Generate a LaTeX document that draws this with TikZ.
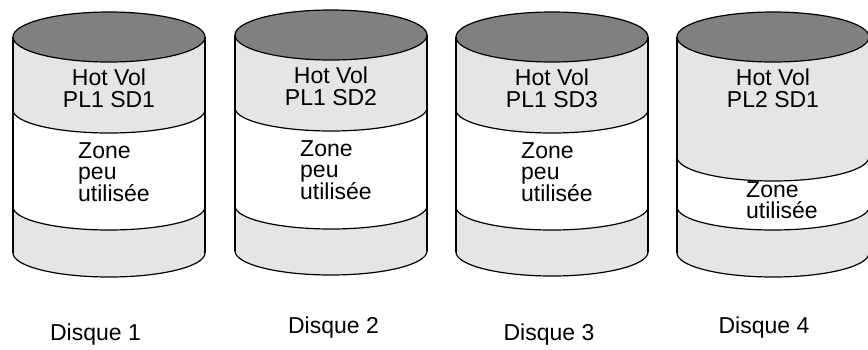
\documentclass[tikz,border=0pt]{standalone}
\usepackage{fontspec}
\setmainfont{Liberation Sans}
\definecolor{lidgray}{RGB}{128,128,128}
\definecolor{bodygray}{RGB}{229,229,229}
\begin{document}
\begin{tikzpicture}[x=1pt, y=1pt, font=\fontsize{23}{22}\selectfont,
		rim/.style = {draw, line width=1.2pt},
		wall/.style = {draw, line width=1.8pt},
		lid/.style = {rim, fill=lidgray},
		hot/.style = {inner sep=0pt, anchor=north, align=center},
		zone/.style = {inner sep=0pt, anchor=north west, align=left, font=\fontsize{23}{21}\selectfont},
		disk/.style = {inner sep=0pt, anchor=base}]
		\useasboundingbox (0,0) rectangle (868,-349);
		% Disque 1
		\fill[bodygray] (13,-37) -- (13,-253) arc[start angle=180, end angle=360, x radius=96, y radius=24] -- (205,-37) -- cycle;
		\fill[white] (13,-110) arc[start angle=180, end angle=360, x radius=96, y radius=23] -- (205,-207) arc[start angle=0, end angle=-180, x radius=96, y radius=23] -- cycle;
		\draw[rim] (13,-110) arc[start angle=180, end angle=360, x radius=96, y radius=23];
		\draw[rim] (13,-207) arc[start angle=180, end angle=360, x radius=96, y radius=23];
		\draw[rim] (13,-253) arc[start angle=180, end angle=360, x radius=96, y radius=24];
		\draw[wall] (13,-37) -- (13,-253) (205,-37) -- (205,-253);
		\draw[lid] (109,-37) ellipse [x radius=96, y radius=25];
		\node[hot] (h1) at (109,-69) {Hot Vol\\PL1 SD1};
		\node[zone] (z1) at (78,-142) {Zone\\peu\\utilisée};
		% Disque 2
		\fill[bodygray] (235,-35) -- (235,-251) arc[start angle=180, end angle=360, x radius=96, y radius=24] -- (427,-35) -- cycle;
		\fill[white] (235,-108) arc[start angle=180, end angle=360, x radius=96, y radius=23] -- (427,-206) arc[start angle=0, end angle=-180, x radius=96, y radius=23] -- cycle;
		\draw[rim] (235,-108) arc[start angle=180, end angle=360, x radius=96, y radius=23];
		\draw[rim] (235,-206) arc[start angle=180, end angle=360, x radius=96, y radius=23];
		\draw[rim] (235,-251) arc[start angle=180, end angle=360, x radius=96, y radius=24];
		\draw[wall] (235,-35) -- (235,-251) (427,-35) -- (427,-251);
		\draw[lid] (331,-35) ellipse [x radius=96, y radius=25];
		\node[hot] (h2) at (331,-67) {Hot Vol\\PL1 SD2};
		\node[zone] (z2) at (300,-140) {Zone\\peu\\utilisée};
		% Disque 3
		\fill[bodygray] (456,-37) -- (456,-252) arc[start angle=180, end angle=360, x radius=96, y radius=24] -- (648,-37) -- cycle;
		\fill[white] (456,-110) arc[start angle=180, end angle=360, x radius=96, y radius=23] -- (648,-207) arc[start angle=0, end angle=-180, x radius=96, y radius=23] -- cycle;
		\draw[rim] (456,-110) arc[start angle=180, end angle=360, x radius=96, y radius=23];
		\draw[rim] (456,-207) arc[start angle=180, end angle=360, x radius=96, y radius=23];
		\draw[rim] (456,-252) arc[start angle=180, end angle=360, x radius=96, y radius=24];
		\draw[wall] (456,-37) -- (456,-252) (648,-37) -- (648,-252);
		\draw[lid] (552,-37) ellipse [x radius=96, y radius=25];
		\node[hot] (h3) at (552,-69) {Hot Vol\\PL1 SD3};
		\node[zone] (z3) at (521,-142) {Zone\\peu\\utilisée};
		% Disque 4
		\fill[bodygray] (677,-37) -- (677,-253) arc[start angle=180, end angle=360, x radius=96, y radius=24] -- (869,-37) -- cycle;
		\fill[white] (677,-157) arc[start angle=180, end angle=360, x radius=96, y radius=24] -- (869,-207) arc[start angle=0, end angle=-180, x radius=96, y radius=23] -- cycle;
		\draw[rim] (677,-157) arc[start angle=180, end angle=360, x radius=96, y radius=24];
		\draw[rim] (677,-207) arc[start angle=180, end angle=360, x radius=96, y radius=23];
		\draw[rim] (677,-253) arc[start angle=180, end angle=360, x radius=96, y radius=24];
		\draw[wall] (677,-37) -- (677,-253) (869,-37) -- (869,-253);
		\draw[lid] (773,-37) ellipse [x radius=96, y radius=25];
		\node[hot] (h4) at (773,-69) {Hot Vol\\PL2 SD1};
		\node[zone] (z4) at (746,-181) {Zone\\utilisée};
		% labels
		\node[disk] (d1) at (95.5,-340) {Disque 1};
		\node[disk] (d2) at (333.5,-333) {Disque 2};
		\node[disk] (d3) at (549,-340) {Disque 3};
		\node[disk] (d4) at (764,-333) {Disque 4};
	\end{tikzpicture}
\end{document}
